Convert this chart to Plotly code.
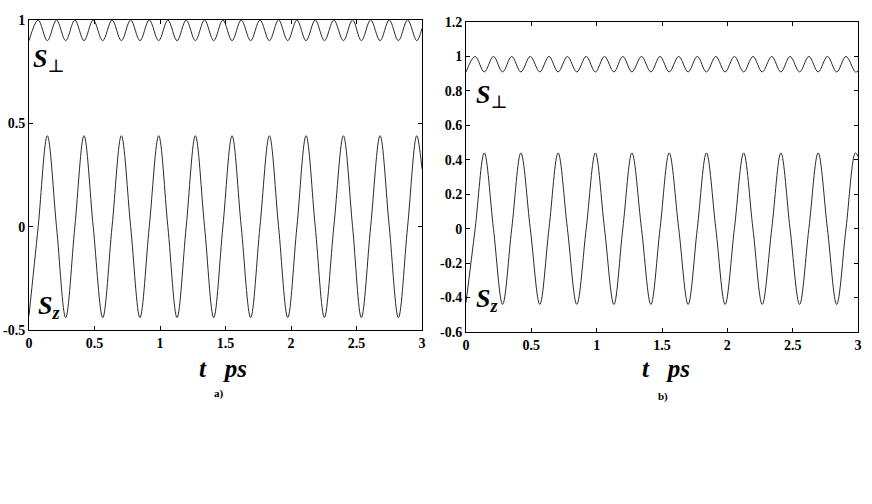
import plotly.graph_objects as go

# ---- data ----
# panel a)
t_a = [0.00, 0.07, 0.14, 0.21, 0.28, 0.35, 0.42, 0.49, 0.563, 0.634, 0.705, 0.776,
       0.847, 0.918, 0.99, 1.06, 1.13, 1.20, 1.27, 1.34, 1.41, 1.48, 1.55, 1.62,
       1.692, 1.763, 1.835, 1.905, 1.975, 2.045, 2.115, 2.185, 2.255, 2.327, 2.40,
       2.47, 2.537, 2.608, 2.68, 2.75, 2.82, 2.89, 2.96, 3.00]
sz_a = [-0.43, 0.0, 0.44, 0.0, -0.44, 0.0, 0.44, 0.0, -0.44, 0.0, 0.44, 0.0,
        -0.44, 0.0, 0.44, 0.0, -0.44, 0.0, 0.44, 0.0, -0.44, 0.0, 0.44, 0.0,
        -0.44, 0.0, 0.44, 0.0, -0.44, 0.0, 0.44, 0.0, -0.44, 0.0, 0.44,
        0.0, -0.44, 0.0, 0.44, 0.0, -0.44, 0.0, 0.44, 0.28]
sp_a = [0.90, 1.0, 0.90, 1.0, 0.90, 1.0, 0.90, 1.0, 0.90, 1.0, 0.90, 1.0,
        0.90, 1.0, 0.90, 1.0, 0.90, 1.0, 0.90, 1.0, 0.90, 1.0, 0.90, 1.0,
        0.90, 1.0, 0.90, 1.0, 0.90, 1.0, 0.90, 1.0, 0.90, 1.0, 0.90,
        1.0, 0.90, 1.0, 0.90, 1.0, 0.90, 1.0, 0.90, 0.96]

# panel b)
t_b = [0.00, 0.07, 0.14, 0.21, 0.28, 0.35, 0.42, 0.492, 0.565, 0.635, 0.705, 0.776,
       0.848, 0.92, 0.99, 1.06, 1.132, 1.20, 1.27, 1.343, 1.415, 1.485, 1.555, 1.628,
       1.70, 1.77, 1.84, 1.912, 1.983, 2.054, 2.125, 2.196, 2.267, 2.34, 2.41,
       2.48, 2.553, 2.624, 2.695, 2.766, 2.837, 2.908, 2.98, 3.00]
sz_b = [-0.43, 0.0, 0.44, 0.0, -0.44, 0.0, 0.44, 0.0, -0.44, 0.0, 0.44, 0.0,
        -0.44, 0.0, 0.44, 0.0, -0.44, 0.0, 0.44, 0.0, -0.44, 0.0, 0.44, 0.0,
        -0.44, 0.0, 0.44, 0.0, -0.44, 0.0, 0.44, 0.0, -0.44, 0.0, 0.44,
        0.0, -0.44, 0.0, 0.44, 0.0, -0.44, 0.0, 0.44, 0.42]
sp_b = [0.91, 1.0, 0.91, 1.0, 0.91, 1.0, 0.91, 1.0, 0.91, 1.0, 0.91, 1.0,
        0.91, 1.0, 0.91, 1.0, 0.91, 1.0, 0.91, 1.0, 0.91, 1.0, 0.91, 1.0,
        0.91, 1.0, 0.91, 1.0, 0.91, 1.0, 0.91, 1.0, 0.91, 1.0, 0.91,
        1.0, 0.91, 1.0, 0.91, 1.0, 0.91, 1.0, 0.91, 0.915]

x_ticks = [0, 0.5, 1, 1.5, 2, 2.5, 3]
x_ticklabels = ["0", "0.5", "1", "1.5", "2", "2.5", "3"]
ya_ticks = [-0.5, 0, 0.5, 1]
ya_ticklabels = ["-0.5", "0", "0.5", "1"]
yb_ticks = [-0.6, -0.4, -0.2, 0, 0.2, 0.4, 0.6, 0.8, 1.0, 1.2]
yb_ticklabels = ["-0.6", "-0.4", "-0.2", "0", "0.2", "0.4", "0.6", "0.8", "1", "1.2"]

W, H = 872, 504
SERIF = "Liberation Serif, Times New Roman, DejaVu Serif, serif"
LINE = dict(color="#2a2a2a", width=1, shape="spline", smoothing=1.0)

fig = go.Figure()
for x, y, ax in [(t_a, sp_a, ("x", "y")), (t_a, sz_a, ("x", "y")),
                 (t_b, sp_b, ("x2", "y2")), (t_b, sz_b, ("x2", "y2"))]:
    fig.add_trace(go.Scatter(x=x, y=y, mode="lines", line=LINE,
                             xaxis=ax[0], yaxis=ax[1], showlegend=False,
                             hoverinfo="skip"))

def px(xp):
    return xp / W

def py(yp):
    return 1 - yp / H

common = dict(showline=True, linecolor="black", linewidth=1, mirror="ticks",
              ticks="inside", ticklen=4, tickcolor="black", showgrid=False,
              zeroline=False, automargin=False,
              tickfont=dict(family=SERIF, size=14, color="black", weight="bold"))

fig.update_layout(
    width=W, height=H, margin=dict(l=0, r=0, t=0, b=0, autoexpand=False),
    paper_bgcolor="white", plot_bgcolor="white",
    xaxis=dict(domain=[px(29), px(422)], range=[0, 3], tickvals=x_ticks,
               ticktext=x_ticklabels, anchor="y", **common),
    yaxis=dict(domain=[py(330), py(20)], range=[-0.5, 1], tickvals=ya_ticks,
               ticktext=ya_ticklabels, anchor="x", **common),
    xaxis2=dict(domain=[px(466), px(858)], range=[0, 3], tickvals=x_ticks,
                ticktext=x_ticklabels, anchor="y2", **common),
    yaxis2=dict(domain=[py(332), py(22)], range=[-0.6, 1.2], tickvals=yb_ticks,
                ticktext=yb_ticklabels, anchor="x2", **common),
)

def ann(text, xp, yp, size, **kw):
    fig.add_annotation(text=text, x=px(xp), y=py(yp), xref="paper", yref="paper",
                       showarrow=False, font=dict(family=SERIF, size=size, color="black"),
                       xanchor=kw.get("xanchor", "center"), yanchor="middle")

S_PERP = "<b><i>S</i></b><sub>⊥</sub>"
S_Z = "<b><i>S</i></b><sub><b><i>z</i></b></sub>"
ann(S_PERP, 31, 60, 26, xanchor="left")
ann(S_Z, 36, 307, 26, xanchor="left")
ann(S_PERP, 474, 96, 26, xanchor="left")
ann(S_Z, 474, 300, 26, xanchor="left")

ann("<b><i>t   ps</i></b>", 223, 368, 25)
ann("<b><i>t   ps</i></b>", 666, 368, 25)
ann("<b>a)</b>", 219, 393, 11)
ann("<b>b)</b>", 663, 396, 11)

fig.write_html("out.html", config={"displayModeBar": False},
               post_script="document.body.style.margin='0';")
